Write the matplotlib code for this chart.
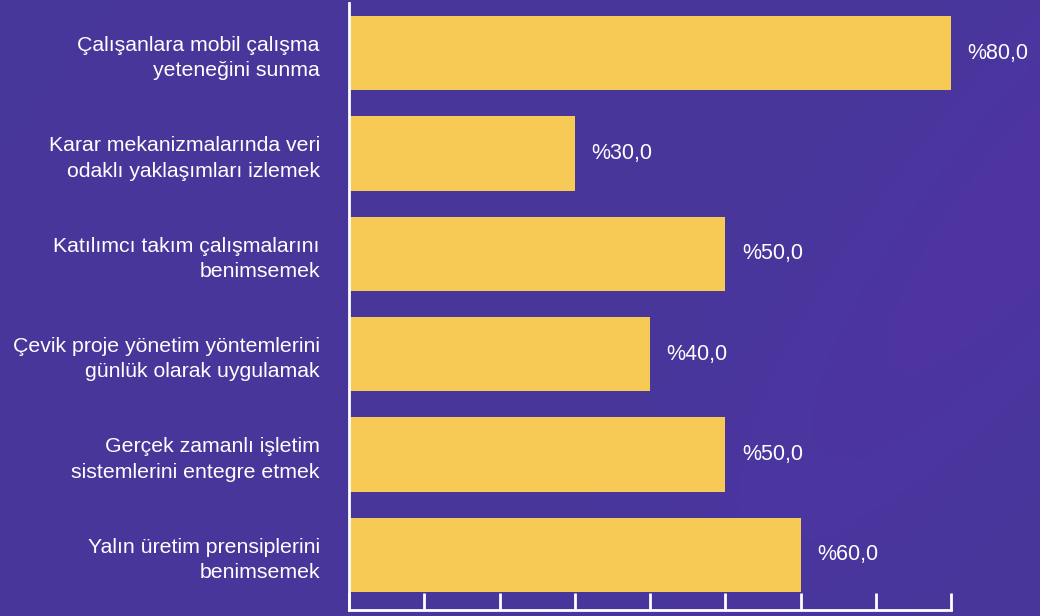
import numpy as np
import matplotlib
matplotlib.use("Agg")
import matplotlib.pyplot as plt

categories = [
    "Çalışanlara mobil çalışma\nyeteneğini sunma",
    "Karar mekanizmalarında veri\nodaklı yaklaşımları izlemek",
    "Katılımcı takım çalışmalarını\nbenimsemek",
    "Çevik proje yönetim yöntemlerini\ngünlük olarak uygulamak",
    "Gerçek zamanlı işletim\nsistemlerini entegre etmek",
    "Yalın üretim prensiplerini\nbenimsemek",
]
values = [80.0, 30.0, 50.0, 40.0, 50.0, 60.0]

bar_color = "#F7C955"
fg = "white"

plt.rcParams["font.family"] = ["Liberation Sans", "DejaVu Sans"]

fig = plt.figure(figsize=(10.4, 6.16), dpi=100)
fig.patch.set_facecolor("#48379B")

# soft diagonal background glow
bgax = fig.add_axes([0, 0, 1, 1], zorder=-10)
yy, xx = np.mgrid[0:1:200j, 0:1:340j]
d = (xx - 0.92) * 0.8 + (yy - 0.5) * 0.35
glow = np.exp(-(d ** 2) / 0.02) * np.exp(-((yy - 0.3) ** 2) / 0.5)
base = np.array([0x48, 0x37, 0x9B]) / 255
hi = np.array([0x4E, 0x34, 0xA2]) / 255
img = base[None, None, :] * (1 - glow[..., None]) + hi[None, None, :] * glow[..., None]
bgax.imshow(img, extent=[0, 1, 0, 1], aspect="auto", origin="upper")
bgax.axis("off")

ax = fig.add_axes([349 / 1040, 6 / 616, 602 / 1040, 607 / 616])
ax.set_facecolor("none")

y = np.arange(len(categories))
ax.barh(y, values, height=0.74, color=bar_color, zorder=2)
ax.set_ylim(len(categories) - 0.45, -0.5)
ax.set_xlim(0, 80)
ax.set_xticks(np.arange(0, 81, 10))
ax.set_xticklabels([])
ax.set_yticks(y)
ax.set_yticklabels(categories, color=fg, fontsize=15.3, linespacing=1.42, ha="right")
ax.tick_params(axis="y", length=0, pad=21)
ax.tick_params(axis="x", direction="in", length=12, width=2, color=fg)

for side in ("top", "right"):
    ax.spines[side].set_visible(False)
for side in ("left", "bottom"):
    ax.spines[side].set_color(fg)
    ax.spines[side].set_linewidth(2)

for yi, v in zip(y, values):
    ax.annotate(f"%{v:.1f}".replace(".", ","), xy=(v, yi), xytext=(12, 0),
                textcoords="offset points", va="center", ha="left",
                color=fg, fontsize=15.5)

fig.savefig("out.png", dpi=100, facecolor=fig.get_facecolor())
